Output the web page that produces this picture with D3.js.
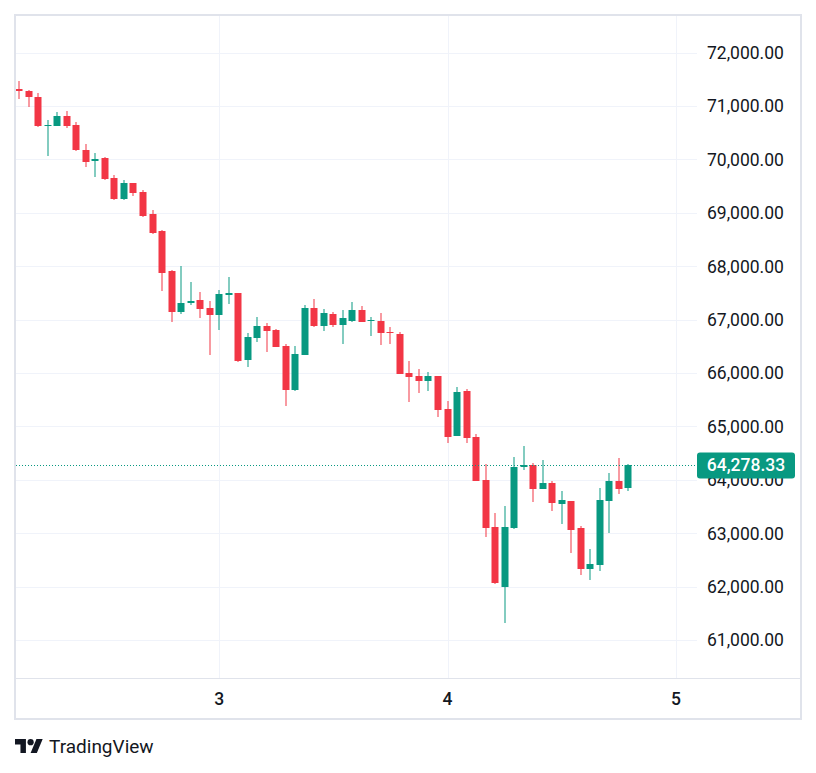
<!DOCTYPE html>
<html>
<head>
<meta charset="utf-8">
<script src="https://cdn.jsdelivr.net/npm/d3@7"></script>
<style>
  html, body { margin: 0; padding: 0; background: #ffffff; }
  text { font-family: Roboto, "Noto Sans", sans-serif; }
</style>
</head>
<body>
<div id="chart"></div>
<script>
// hourly candles, day 2 03:00 -> day 4 19:00
const openValues = [71326, 71289, 71177, 70630, 70634, 70821, 70653, 70167, 69966, 70017,
  69643, 69250, 69549, 69387, 68969, 68651, 67903, 67142, 67310, 67360,
  67211, 67085, 67470, 67491, 66243, 66655, 66874, 66799, 66500, 65682,
  66337, 67211, 66879, 67098, 66898, 66973, 67173, 66973, 66967, 66760,
  66729, 65994, 65938, 65850, 65938, 65321, 64822, 65658, 64797, 63993,
  63113, 61997, 63100, 64241, 64273, 63830, 63936, 63549, 63600, 63100,
  62333, 62408, 63605, 63974, 63849];
const highValues = [71463, 71308, 71252, 70746, 70896, 70915, 70709, 70297, 70129, 70036,
  69699, 69605, 69560, 69418, 69050, 68670, 67927, 67996, 67697, 67510,
  67341, 67547, 67796, 67500, 66743, 67042, 66930, 66818, 66537, 66500,
  67267, 67379, 67192, 67136, 67173, 67323, 67248, 67042, 67117, 66855,
  66762, 66219, 66069, 66013, 65945, 65471, 65732, 65695, 64853, 64292,
  63375, 63506, 64423, 64629, 64311, 64367, 63974, 63787, 63605, 63132,
  62707, 63843, 64124, 64404, 64295];
const lowValues = [71126, 70990, 70610, 70060, 70630, 70597, 70160, 69854, 69667, 69611,
  69231, 69231, 69306, 68925, 68610, 67534, 66954, 67104, 67272, 67029,
  66331, 66804, 67285, 66215, 66112, 66574, 66393, 66480, 65383, 65670,
  66330, 66861, 66780, 66861, 66543, 66954, 66950, 66692, 66524, 66543,
  65975, 65457, 65626, 65663, 65177, 64690, 64815, 64690, 63975, 62932,
  62053, 61323, 63081, 64185, 63587, 63825, 63418, 63175, 62632, 62221,
  62127, 62296, 63006, 63736, 63793];
const closeValues = [71276, 71164, 70621, 70650, 70821, 70634, 70167, 69948, 70011, 69624,
  69250, 69549, 69368, 68932, 68619, 67871, 67142, 67317, 67355, 67197,
  67085, 67472, 67490, 66225, 66668, 66874, 66786, 66487, 65682, 66350,
  67211, 66879, 67117, 66898, 67023, 67173, 66954, 66990, 66748, 66748,
  65981, 65925, 65850, 65938, 65308, 64803, 65639, 64784, 63980, 63100,
  62066, 63113, 64236, 64268, 63830, 63936, 63568, 63618, 63063, 62333,
  62421, 63618, 63974, 63830, 64278.33];
const priceTicks = [61000, 62000, 63000, 64000, 65000, 66000, 67000, 68000, 69000, 70000, 71000, 72000];
const lastPrice = 64278.33;

const width = 816;
const height = 773;
const plotLeft = 15;
const plotRight = 697;
const plotTop = 15;
const plotBottom = 678;
const frameRight = 801;
const frameBottom = 719;

const upColor = '#089981';
const downColor = '#f23645';
const gridColor = '#f0f3fa';
const lineColor = '#e0e3eb';
const textColor = '#131722';

const firstTime = Date.UTC(2024, 7, 2, 3);
const candles = openValues.map((o, i) => ({
  time: new Date(firstTime + i * 3600 * 1000),
  open: o,
  high: highValues[i],
  low: lowValues[i],
  close: closeValues[i]
}));

const svg = d3.select('#chart')
  .append('svg')
  .attr('width', width)
  .attr('height', height);

svg.append('rect')
  .attr('width', width)
  .attr('height', height)
  .attr('fill', '#ffffff');

const scaleX = d3.scaleUtc()
  .domain([candles[0].time, candles[candles.length - 1].time])
  .range([19.3, 628.3]);

const scaleY = d3.scaleLinear()
  .domain([61000, 72000])
  .range([640, 52.6]);

// axis scale stretched over the whole plot width
const axisX = d3.scaleUtc()
  .domain([scaleX.invert(plotLeft), scaleX.invert(plotRight)])
  .range([plotLeft, plotRight]);
const dayTicks = d3.utcDay.range(axisX.domain()[0], axisX.domain()[1]);

// grid
const grid = svg.append('g').attr('class', 'grid');

grid.selectAll('.hgrid')
  .data(priceTicks)
  .enter()
  .append('line')
  .attr('x1', plotLeft + 1)
  .attr('x2', plotRight)
  .attr('y1', (d) => Math.round(scaleY(d)) + 0.5)
  .attr('y2', (d) => Math.round(scaleY(d)) + 0.5)
  .attr('stroke', gridColor)
  .attr('stroke-width', 1);

grid.selectAll('.vgrid')
  .data(dayTicks)
  .enter()
  .append('line')
  .attr('x1', (d) => Math.round(axisX(d)) + 0.5)
  .attr('x2', (d) => Math.round(axisX(d)) + 0.5)
  .attr('y1', plotTop + 1)
  .attr('y2', plotBottom)
  .attr('stroke', gridColor)
  .attr('stroke-width', 1);

// candles
const groupCandles = svg.append('g').attr('class', 'candles');

const candle = groupCandles.selectAll('g')
  .data(candles)
  .enter()
  .append('g')
  .attr('fill', (d) => d.close >= d.open ? upColor : downColor);

candle.append('rect')
  .attr('x', (d) => Math.round(scaleX(d.time)) - 0.5)
  .attr('width', 1)
  .attr('y', (d) => Math.round(scaleY(d.high)))
  .attr('height', (d) => Math.max(1, Math.round(scaleY(d.low)) - Math.round(scaleY(d.high))));

candle.append('rect')
  .attr('x', (d) => Math.round(scaleX(d.time)) - 3.5)
  .attr('width', 7)
  .attr('y', (d) => Math.round(scaleY(Math.max(d.open, d.close))))
  .attr('height', (d) => Math.max(1, Math.round(scaleY(Math.min(d.open, d.close))) - Math.round(scaleY(Math.max(d.open, d.close)))));

// last price line
svg.append('line')
  .attr('x1', plotLeft + 1)
  .attr('x2', plotRight)
  .attr('y1', Math.round(scaleY(lastPrice)) + 0.5)
  .attr('y2', Math.round(scaleY(lastPrice)) + 0.5)
  .attr('stroke', upColor)
  .attr('stroke-width', 1)
  .attr('stroke-dasharray', '1,2');

// price axis
const groupAxisY = svg.append('g').attr('class', 'price-axis');

groupAxisY.selectAll('text')
  .data(priceTicks)
  .enter()
  .append('text')
  .attr('x', 707)
  .attr('y', (d) => scaleY(d))
  .attr('dy', '0.36em')
  .attr('font-size', '17.5px')
  .attr('fill', textColor)
  .text((d) => d3.format(',.2f')(d));

// last price tag
const tagY = scaleY(lastPrice);
svg.append('rect')
  .attr('x', 697)
  .attr('y', tagY - 12.5)
  .attr('width', 98)
  .attr('height', 26)
  .attr('rx', 3)
  .attr('fill', upColor);

svg.append('text')
  .attr('x', 746)
  .attr('y', tagY)
  .attr('dy', '0.36em')
  .attr('text-anchor', 'middle')
  .attr('font-size', '17.5px')
  .attr('font-weight', 500)
  .attr('fill', '#ffffff')
  .text(d3.format(',.2f')(lastPrice));

// time axis
const groupAxisX = svg.append('g').attr('class', 'time-axis');

groupAxisX.selectAll('text')
  .data(dayTicks)
  .enter()
  .append('text')
  .attr('x', (d) => axisX(d))
  .attr('y', 699)
  .attr('dy', '0.36em')
  .attr('text-anchor', 'middle')
  .attr('font-size', '17.5px')
  .attr('font-weight', 500)
  .attr('fill', textColor)
  .text((d) => d3.utcFormat('%-d')(d));

svg.append('line')
  .attr('x1', plotLeft)
  .attr('x2', frameRight)
  .attr('y1', plotBottom + 0.5)
  .attr('y2', plotBottom + 0.5)
  .attr('stroke', lineColor)
  .attr('stroke-width', 1);

// frame
svg.append('rect')
  .attr('x', plotLeft)
  .attr('y', plotTop)
  .attr('width', frameRight - plotLeft)
  .attr('height', frameBottom - plotTop)
  .attr('fill', 'none')
  .attr('stroke', lineColor)
  .attr('stroke-width', 2);

// logo
const logo = svg.append('g')
  .attr('transform', 'translate(15, 735.9) scale(0.78)')
  .attr('fill', textColor);
logo.append('path').attr('d', 'M14 22H7V11H0V4h14v18z');
logo.append('path').attr('d', 'M28 22h-8l7.5-18h8L28 22z');
logo.append('circle').attr('cx', 20).attr('cy', 8).attr('r', 4);

svg.append('text')
  .attr('x', 49)
  .attr('y', 753)
  .attr('font-size', '19px')
  .attr('fill', textColor)
  .text('TradingView');
</script>
</body>
</html>
